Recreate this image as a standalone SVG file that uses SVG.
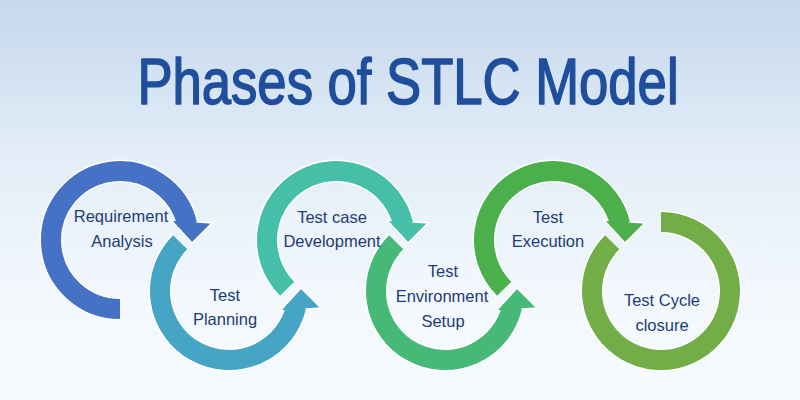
<svg xmlns="http://www.w3.org/2000/svg" width="800" height="400" viewBox="0 0 800 400">
<defs>
<linearGradient id="bg" x1="0" y1="0" x2="0" y2="1">
<stop offset="0" stop-color="#C5D8ED"/>
<stop offset="0.4" stop-color="#E4EEF8"/>
<stop offset="0.75" stop-color="#F3F8FD"/>
<stop offset="1" stop-color="#F6FBFF"/>
</linearGradient>
</defs>
<style>
.title{font-family:"Liberation Sans",Arial,sans-serif;font-size:65px;fill:#1F4F9C;stroke:#1F4F9C;stroke-width:1.6;stroke-linejoin:round;text-anchor:middle}
.lbl{font-family:"Liberation Sans",Arial,sans-serif;font-size:16.5px;fill:#1D3C78;text-anchor:middle}
.under{fill:none;stroke:#FFFFFF;stroke-width:23}
.ring{fill:none;stroke-width:20}
.head{stroke:#FFFFFF;stroke-width:1.5;stroke-linejoin:miter}
</style>
<rect x="0" y="0" width="800" height="400" fill="url(#bg)"/>
<text class="title" transform="translate(408,104) scale(0.81,1)" x="0" y="0">Phases of STLC Model</text>
<g id="connectors">
<g id="ring1">
<path class="under" d="M120,309 A69,69 0 1 1 187.23,224.48"/>
<polygon class="head" fill="#4672C6" points="171,220 212,223 192,243"/>
<path class="ring" stroke="#4672C6" d="M120,309 A69,69 0 1 1 187.23,224.48"/>
</g>
<g id="ring2">
<path class="under" d="M180.21,242.21 A69,69 0 1 0 296.23,306.52"/>
<polygon class="head" fill="#46A4C4" points="280,311 321,308 301,288"/>
<path class="ring" stroke="#46A4C4" d="M180.21,242.21 A69,69 0 1 0 296.23,306.52"/>
</g>
<g id="ring3">
<path class="under" d="M287.21,288.79 A69,69 0 1 1 403.23,224.48"/>
<polygon class="head" fill="#45BFA8" points="387,220 428,223 408,243"/>
<path class="ring" stroke="#45BFA8" d="M287.21,288.79 A69,69 0 1 1 403.23,224.48"/>
</g>
<g id="ring4">
<path class="under" d="M396.21,242.21 A69,69 0 1 0 512.23,306.52"/>
<polygon class="head" fill="#46B977" points="496,311 537,308 517,288"/>
<path class="ring" stroke="#46B977" d="M396.21,242.21 A69,69 0 1 0 512.23,306.52"/>
</g>
<g id="ring5">
<path class="under" d="M504.21,288.79 A69,69 0 1 1 620.23,224.48"/>
<polygon class="head" fill="#4BB04B" points="604,220 645,223 625,243"/>
<path class="ring" stroke="#4BB04B" d="M504.21,288.79 A69,69 0 1 1 620.23,224.48"/>
</g>
<g id="ring6">
<path class="under" d="M612.21,242.21 A69,69 0 1 0 661,222"/>
<path class="ring" stroke="#72AD48" d="M612.21,242.21 A69,69 0 1 0 661,222"/>
</g>
</g>
<g id="node1"><text class="lbl" x="121" y="222">Requirement</text><text class="lbl" x="122" y="247">Analysis</text></g>
<g id="node2"><text class="lbl" x="225" y="301">Test</text><text class="lbl" x="225" y="325">Planning</text></g>
<g id="node3"><text class="lbl" x="332" y="223">Test case</text><text class="lbl" x="332" y="247">Development</text></g>
<g id="node4"><text class="lbl" x="443" y="277">Test</text><text class="lbl" x="442" y="302">Environment</text><text class="lbl" x="443" y="327">Setup</text></g>
<g id="node5"><text class="lbl" x="548" y="223">Test</text><text class="lbl" x="548" y="247">Execution</text></g>
<g id="node6"><text class="lbl" x="662" y="306">Test Cycle</text><text class="lbl" x="662" y="331">closure</text></g>
</svg>
